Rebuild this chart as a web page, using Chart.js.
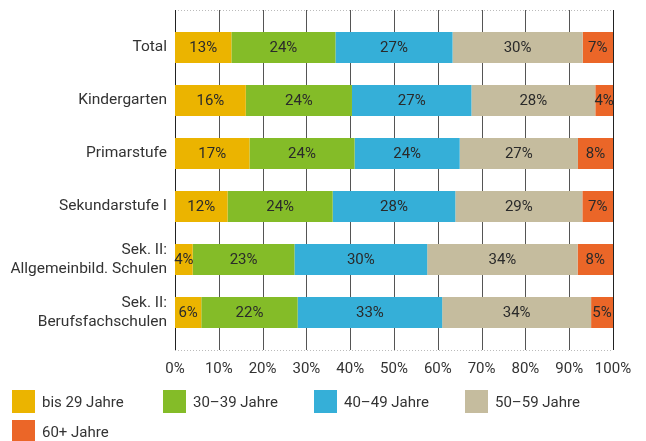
<!DOCTYPE html>
<html>
<head>
<meta charset="utf-8">
<script src="https://cdn.jsdelivr.net/npm/chart.js@4/dist/chart.umd.min.js"></script>
<style>
  body { margin: 0; background: #fff; font-family: Roboto, sans-serif; }
  #wrap { position: relative; width: 646px; height: 441px; }
  #legend { position: absolute; left: 12px; top: 390px; width: 620px; }
  .item { position: absolute; display: flex; align-items: center; font-size: 15px; color: #333; }
  .box { width: 23px; height: 23px; margin-right: 7px; }
</style>
</head>
<body>
<div id="wrap">
  <canvas id="ageChart" width="646" height="441"></canvas>
  <div id="legend"></div>
</div>
<script>
const categories = ['Total', 'Kindergarten', 'Primarstufe', 'Sekundarstufe I',
    ['Sek. II:', 'Allgemeinbild. Schulen'], ['Sek. II:', 'Berufsfachschulen']];
const seriesNames = ['bis 29 Jahre', '30–39 Jahre', '40–49 Jahre', '50–59 Jahre', '60+ Jahre'];
const seriesColors = ['#ebb400', '#84bc28', '#35afd8', '#c5bc9e', '#eb6628'];

const bis29 = [13, 16, 17, 12, 4, 6];
const age30to39 = [24, 24, 24, 24, 23, 22];
const age40to49 = [27, 27, 24, 28, 30, 33];
const age50to59 = [30, 28, 27, 29, 34, 34];
const age60plus = [7, 4, 8, 7, 8, 5];

const xTicks = [0, 10, 20, 30, 40, 50, 60, 70, 80, 90, 100];

const series = [bis29, age30to39, age40to49, age50to59, age60plus];
// rounded shares don't always add to 100, scale each row to a full bar
const rowTotals = categories.map((c, i) => series.reduce((s, arr) => s + arr[i], 0));

const datasets = series.map((arr, k) => ({
    label: seriesNames[k],
    data: arr.map((v, i) => v * 100 / rowTotals[i]),
    shown: arr,
    backgroundColor: seriesColors[k],
    borderWidth: 0,
    barPercentage: 0.585,
    categoryPercentage: 1
}));

// grid lines reach a bit above and below the bars, dotted frame top/bottom
const gridPlugin = {
    id: 'grid',
    beforeDatasetsDraw(chart) {
        const { ctx, chartArea, scales } = chart;
        const top = chartArea.top - 11, bottom = chartArea.bottom + 11;
        ctx.save();
        ctx.strokeStyle = '#bbb';
        ctx.lineWidth = 1;
        ctx.setLineDash([1, 2]);
        [top, bottom].forEach(y => {
            ctx.beginPath();
            ctx.moveTo(chartArea.left, y + 0.5);
            ctx.lineTo(chartArea.right, y + 0.5);
            ctx.stroke();
        });
        ctx.setLineDash([]);
        xTicks.forEach(t => {
            const x = Math.round(scales.x.getPixelForValue(t)) + 0.5;
            ctx.strokeStyle = (t === 0 || t === 100) ? '#222' : '#555';
            ctx.beginPath();
            ctx.moveTo(x, top);
            ctx.lineTo(x, bottom);
            ctx.stroke();
        });
        ctx.restore();
    },
    afterDatasetsDraw(chart) {
        const { ctx } = chart;
        ctx.save();
        ctx.font = '15px Roboto';
        ctx.fillStyle = '#2a2a2a';
        ctx.textAlign = 'center';
        ctx.textBaseline = 'middle';
        chart.data.datasets.forEach((ds, k) => {
            chart.getDatasetMeta(k).data.forEach((bar, i) => {
                const cx = (bar.x + bar.base) / 2;
                ctx.fillText(ds.shown[i] + '%', cx, bar.y + 1);
            });
        });
        ctx.restore();
    }
};

const ageChart = new Chart(document.getElementById('ageChart'), {
    type: 'bar',
    data: { labels: categories, datasets: datasets },
    options: {
        indexAxis: 'y',
        responsive: false,
        animation: false,
        layout: { padding: { top: 21, right: 33, bottom: 64, left: 0 } },
        scales: {
            x: {
                stacked: true,
                min: 0,
                max: 100,
                grid: { display: false, drawTicks: false },
                border: { display: false },
                afterBuildTicks(scale) { scale.ticks = xTicks.map(v => ({ value: v })); },
                afterFit(scale) {
                    scale.height = 38;
                    scale.paddingLeft = 0;
                    scale.paddingRight = 0;
                },
                ticks: {
                    padding: 21,
                    color: '#333',
                    font: { family: 'Roboto', size: 15 },
                    callback: v => v + '%'
                }
            },
            y: {
                stacked: true,
                grid: { display: false, drawTicks: false },
                border: { display: false },
                afterFit(scale) {
                    scale.width = 175;
                    scale.paddingTop = 0;
                    scale.paddingBottom = 0;
                },
                ticks: {
                    padding: 8,
                    color: '#333',
                    font: { family: 'Roboto', size: 15.5 }
                }
            }
        },
        plugins: {
            legend: { display: false },
            tooltip: { enabled: false }
        }
    },
    plugins: [gridPlugin]
});

// legend: four per row, fixed column spacing
const legendEl = document.getElementById('legend');
seriesNames.forEach((name, k) => {
    const item = document.createElement('div');
    item.className = 'item';
    item.style.left = (k % 4) * 151 + 'px';
    item.style.top = Math.floor(k / 4) * 30 + 'px';
    item.innerHTML = '<div class="box" style="background:' + seriesColors[k] + '"></div><span>' + name + '</span>';
    legendEl.appendChild(item);
});
</script>
</body>
</html>
